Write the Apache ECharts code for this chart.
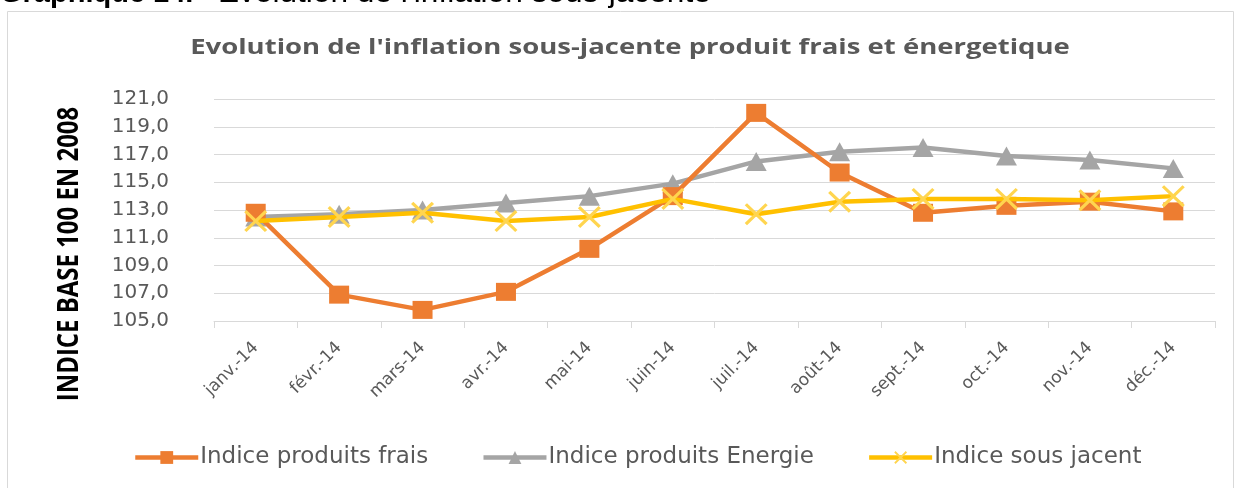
<!DOCTYPE html>
<html><head><meta charset="utf-8">
<script src="https://cdn.jsdelivr.net/npm/echarts@6/dist/echarts.min.js"></script>
<style>html,body{margin:0;padding:0;background:#fff}#c{width:1238px;height:488px}</style>
</head><body><div id="c"></div>
<script>
const categories = ['janv.-14','févr.-14','mars-14','avr.-14','mai-14','juin-14','juil.-14','août-14','sept.-14','oct.-14','nov.-14','déc.-14'];
const frais = [112.8,106.9,105.8,107.1,110.2,114.0,120.0,115.7,112.8,113.3,113.6,112.9];
const energie = [112.5,112.7,113.0,113.5,114.0,114.9,116.5,117.2,117.5,116.9,116.6,116.0];
const sousJacent = [112.2,112.5,112.8,112.2,112.5,113.8,112.7,113.6,113.8,113.8,113.7,114.0];
const yTicks = {min:105, max:121, interval:2};
const seriesNames = ['Indice produits frais','Indice produits Energie','Indice sous jacent'];

const WIDE = 'DejaVu Sans';
const chart = echarts.init(document.getElementById('c'), null, {renderer:'canvas'});
const xSym = 'path://M0,1L1,0L10,9L9,10ZM9,0L10,1L1,10L0,9Z';
chart.setOption({
  animation:false,
  textStyle:{fontFamily:WIDE},
  graphic:[
    {type:'rect', shape:{x:7.5,y:11.5,width:1226,height:500}, style:{fill:'none',stroke:'#D9D9D9',lineWidth:1}, z:-1},
    {type:'text', x:0, y:-21, style:{text:'Graphique 14.', font:'bold 29px "Liberation Sans"', fill:'#000', verticalAlign:'top'}},
    {type:'text', x:218, y:-21, scaleX:1.09, style:{text:'Evolution de l\'inflation sous-jacente', font:'29px "Liberation Sans"', fill:'#000', verticalAlign:'top'}},
    {type:'text', x:630, y:48, scaleX:1.31, style:{text:'Evolution de l\'inflation sous-jacente produit frais et énergetique', font:'bold 21px "Open Sans"', fill:'#595959', align:'center', verticalAlign:'middle'}},
    {type:'text', x:70, y:254, rotation:Math.PI/2, scaleX:0.855, style:{text:'INDICE BASE 100 EN 2008', font:'bold 28px "Open Sans"', fill:'#000', align:'center', verticalAlign:'middle'}}
  ],
  grid:{left:214, right:23, top:99, bottom:167},
  legend:{
    top:441, left:128, itemGap:53, itemWidth:63, itemHeight:16,
    textStyle:{color:'#595959', fontSize:23, fontFamily:WIDE, padding:[0,0,0,-3]},
    lineStyle:{width:4.5},
    data:seriesNames
  },
  xAxis:{
    type:'category', data:categories, boundaryGap:true,
    axisLine:{lineStyle:{color:'#D9D9D9', width:1}},
    axisTick:{show:true, length:7, lineStyle:{color:'#D9D9D9'}},
    axisLabel:{rotate:45, color:'#595959', fontSize:17, margin:24, interval:0}
  },
  yAxis:{
    type:'value', min:yTicks.min, max:yTicks.max, interval:yTicks.interval,
    axisLine:{show:false}, axisTick:{show:false},
    splitLine:{lineStyle:{color:'#D9D9D9', width:1}},
    axisLabel:{color:'#595959', fontSize:20, margin:45, formatter:v=>v.toFixed(1).replace('.',',')}
  },
  series:[
    {name:seriesNames[0], type:'line', data:frais, symbol:'rect', symbolSize:[20,18],
     lineStyle:{color:'#ED7D31', width:4.5}, itemStyle:{color:'#ED7D31'}, z:3},
    {name:seriesNames[1], type:'line', data:energie, symbol:'triangle', symbolSize:[21,19],
     lineStyle:{color:'#A5A5A5', width:4.5}, itemStyle:{color:'#A5A5A5'}, z:2},
    {name:seriesNames[2], type:'line', data:sousJacent, symbol:xSym, symbolSize:[23,22],
     lineStyle:{color:'#FFC000', width:4.5}, itemStyle:{color:'#FFD54F'}, z:4}
  ]
});
</script></body></html>
